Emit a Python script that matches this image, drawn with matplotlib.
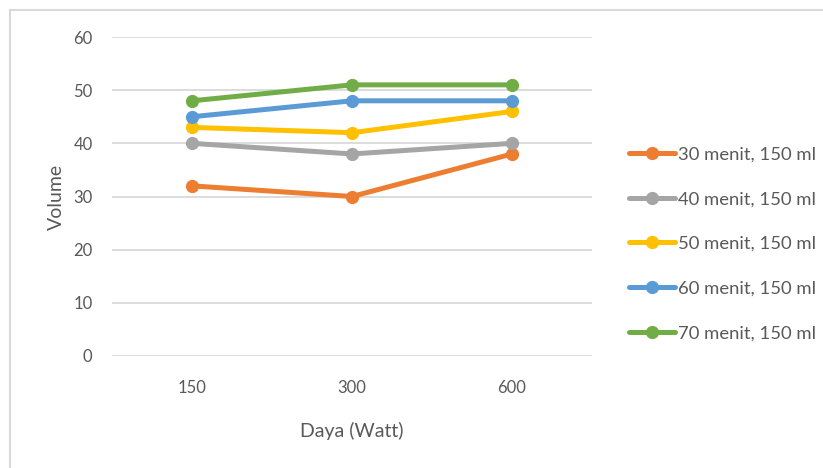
import matplotlib.pyplot as plt
from matplotlib.lines import Line2D

daya = ["150", "300", "600"]
series_labels = [
    "30 menit, 150 ml",
    "40 menit, 150 ml",
    "50 menit, 150 ml",
    "60 menit, 150 ml",
    "70 menit, 150 ml",
]
vol_30 = [32, 30, 38]
vol_40 = [40, 38, 40]
vol_50 = [43, 42, 46]
vol_60 = [45, 48, 48]
vol_70 = [48, 51, 51]
yticks = [0, 10, 20, 30, 40, 50, 60]

colors = ["#ED7D31", "#A5A5A5", "#FFC000", "#5B9BD5", "#70AD47"]
text_color = "#595959"

plt.rcParams["font.family"] = ["Lato", "DejaVu Sans"]

W, H = 823, 468
fig = plt.figure(figsize=(W / 100, H / 100), dpi=100)

# plot area in pixel coordinates
left, right, top, bottom = 112, 592, 37, 356
ax = fig.add_axes([left / W, 1 - bottom / H, (right - left) / W, (bottom - top) / H])

x = list(range(len(daya)))
for vals, lab, c in zip([vol_30, vol_40, vol_50, vol_60, vol_70], series_labels, colors):
    ax.plot(x, vals, color=c, lw=3.6, marker="o", markersize=8.5,
            solid_capstyle="round", label=lab)

ax.set_xlim(-0.5, 2.5)
ax.set_ylim(0, 60)
ax.set_yticks(yticks)
ax.set_xticks(x)
ax.set_xticklabels(daya)
ax.yaxis.grid(True, color="#D9D9D9", lw=1.3)
ax.set_axisbelow(True)
for s in ax.spines.values():
    s.set_visible(False)
ax.tick_params(length=0, colors=text_color, labelsize=12)
ax.tick_params(axis="y", pad=14)
ax.tick_params(axis="x", pad=17)
ax.set_ylabel("Volume", color=text_color, fontsize=14, labelpad=6)
ax.set_xlabel("Daya (Watt)", color=text_color, fontsize=14, labelpad=19)

handles = [Line2D([0], [0], color=c, lw=3.6, marker="o", markersize=8.5,
                  solid_capstyle="round") for c in colors]
fig.legend(handles, series_labels, loc="upper left",
           bbox_to_anchor=(612 / W, 1 - 130 / H), frameon=False,
           fontsize=13.3, labelcolor=text_color, handlelength=2.5,
           handletextpad=0.2, labelspacing=1.55)

# chart frame
fig.add_artist(Line2D([10 / W, 10 / W], [0, 1 - 10 / H], color="#D9D9D9", lw=1.5))
fig.add_artist(Line2D([10 / W, 1], [1 - 10 / H, 1 - 10 / H], color="#D9D9D9", lw=1.5))

fig.savefig("out.png", dpi=100)
